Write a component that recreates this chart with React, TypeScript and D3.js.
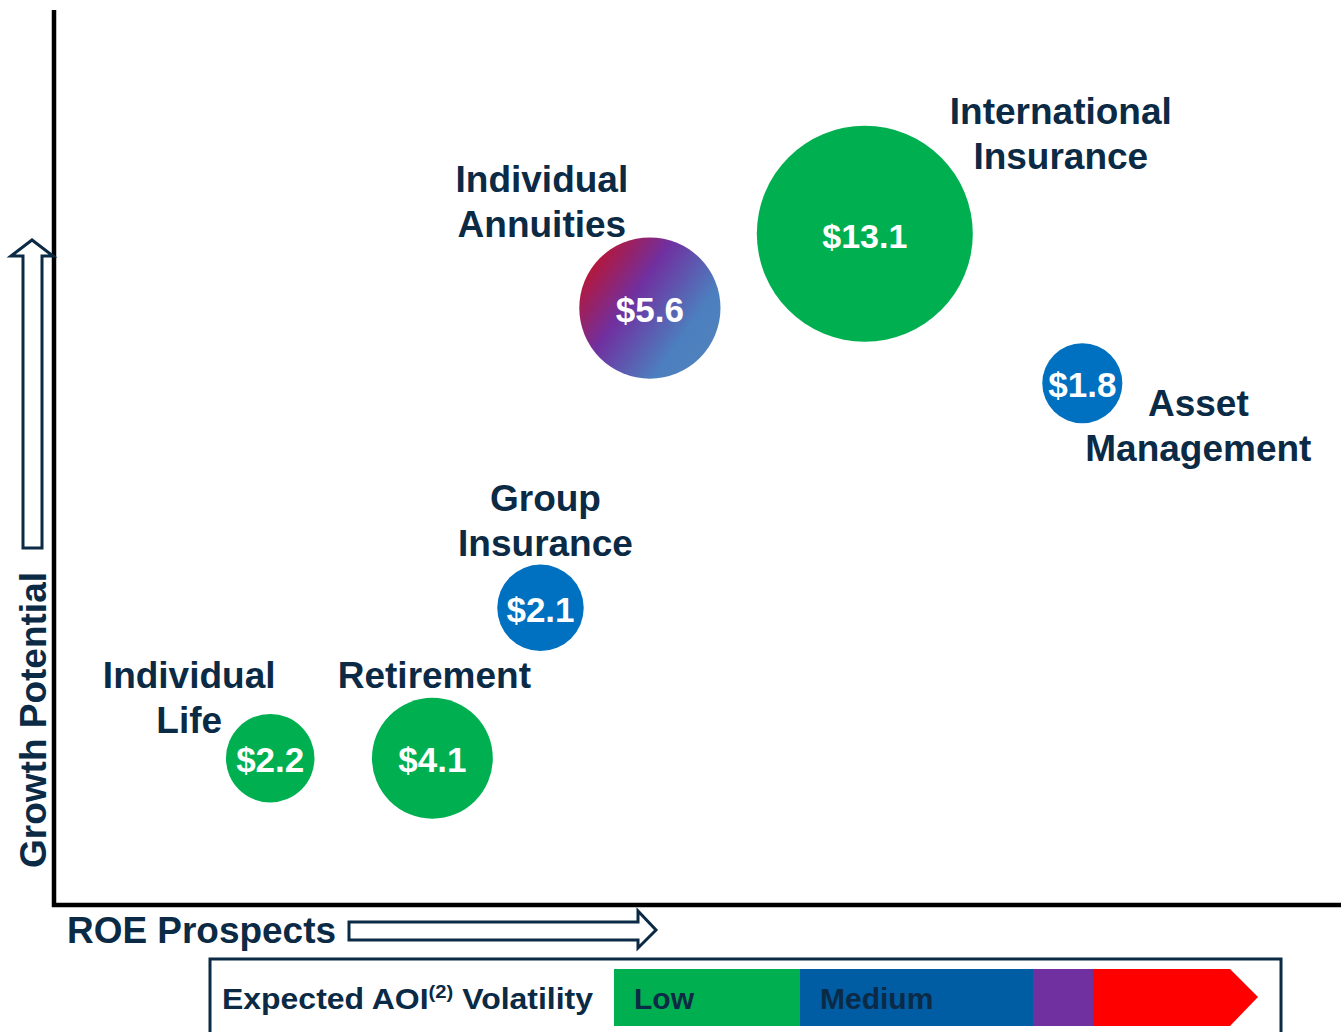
import React from 'react';
import * as d3 from 'd3';

const W = 1341;
const H = 1032;
const navy = '#0B2A45';
const font = '"Liberation Sans", Arial, sans-serif';

// segment data: AOI ($bn), ROE prospect score, growth potential score (0-100)
const segments = ['Individual Life', 'Retirement', 'Group Insurance', 'Individual Annuities', 'International Insurance', 'Asset Management'];
const aoi = [2.2, 4.1, 2.1, 5.6, 13.1, 1.8];
const roe = [16.8, 29.4, 37.8, 46.3, 63.0, 79.9];
const growth = [16.4, 16.4, 33.2, 66.7, 75.0, 58.3];
const volatility = ['low', 'low', 'medium', 'mixed', 'low', 'medium'];

// legend
const volLabels = ['Low', 'Medium', '', ''];
const volShare = [1.86, 2.33, 0.6, 1.42];
const volColors = ['#00B050', '#005CA3', '#7030A0', '#FF0000'];

const fillFor: Record<string, string> = {
  low: '#00B050',
  medium: '#0070C0',
  mixed: 'url(#annGrad)',
};

// label placement relative to bubble centre
const labelLayout: Record<string, {lines: string[]; dx: number; dy: number}> = {
  'Individual Life': {lines: ['Individual', 'Life'], dx: -81, dy: -70},
  Retirement: {lines: ['Retirement'], dx: 2, dy: -70},
  'Group Insurance': {lines: ['Group', 'Insurance'], dx: 5, dy: -97},
  'Individual Annuities': {lines: ['Individual', 'Annuities'], dx: -108, dy: -116},
  'International Insurance': {lines: ['International', 'Insurance'], dx: 196, dy: -110},
  'Asset Management': {lines: ['Asset', 'Management'], dx: 116, dy: 33},
};

const x = d3.scaleLinear().domain([0, 100]).range([54, W]);
const y = d3.scaleLinear().domain([0, 100]).range([905, 10]);
const r = d3.scaleSqrt().domain([0, 13.1]).range([0, 108]);

export default function App() {
  const legX = d3.scaleLinear().domain([0, d3.sum(volShare)]).range([614, 1235]);
  const cum = volShare.map((_, i) => d3.sum(volShare.slice(0, i)));
  return (
    <svg width={W} height={H} style={{position: 'absolute', left: 0, top: 0}} fontFamily={font}>
      <defs>
        <linearGradient id="annGrad" x1="0" y1="0.15" x2="1" y2="0.85">
          <stop offset="0" stopColor="#C8101E" />
          <stop offset="0.38" stopColor="#7030A0" />
          <stop offset="0.75" stopColor="#4C7FBE" />
          <stop offset="1" stopColor="#5182BE" />
        </linearGradient>
      </defs>
      <rect width={W} height={H} fill="#fff" />

      {/* axes */}
      <line x1={x(0)} y1={y(100)} x2={x(0)} y2={y(0) + 2} stroke="#000" strokeWidth={4.5} />
      <line x1={x(0) - 2} y1={y(0)} x2={W} y2={y(0)} stroke="#000" strokeWidth={4.5} />

      {/* y axis title + arrow */}
      <text transform="translate(46,868) rotate(-90)" fontSize={36} fontWeight="bold" fill={navy} textLength={296} lengthAdjust="spacingAndGlyphs">
        Growth Potential
      </text>
      <path d="M23,548 L23,256 L11,256 L32,240 L53,256 L42,256 L42,548 Z" fill="#fff" stroke={navy} strokeWidth={3} strokeLinejoin="miter" />

      {/* x axis title + arrow */}
      <text x={67} y={943} fontSize={36} fontWeight="bold" fill={navy} textLength={269} lengthAdjust="spacingAndGlyphs">
        ROE Prospects
      </text>
      <path d="M349,922 L638,922 L638,911 L656,930 L638,948 L638,940 L349,940 Z" fill="#fff" stroke={navy} strokeWidth={3} />

      {/* bubbles */}
      {segments.map((s, i) => {
        const cx = x(roe[i]);
        const cy = y(growth[i]);
        const lay = labelLayout[s];
        return (
          <g key={s}>
            <circle cx={cx} cy={cy} r={r(aoi[i])} fill={fillFor[volatility[i]]} />
            <text x={cx} y={cy + 14} textAnchor="middle" fontSize={aoi[i] > 10 ? 34 : 35} fontWeight="bold" fill="#fff">
              ${aoi[i].toFixed(1)}
            </text>
            {lay.lines.map((l, j) => (
              <text key={l} x={cx + lay.dx} y={cy + lay.dy + j * 45} textAnchor="middle" fontSize={37} fontWeight="bold" fill={navy}>
                {l}
              </text>
            ))}
          </g>
        );
      })}

      {/* legend */}
      <rect x={210} y={959} width={1071} height={90} fill="#fff" stroke={navy} strokeWidth={3} />
      <text x={222} y={1009} fontSize={30} fontWeight="bold" fill={navy} textLength={371} lengthAdjust="spacingAndGlyphs">
        Expected AOI<tspan fontSize={19} dy={-11}>(2)</tspan>
        <tspan dy={11}> Volatility</tspan>
      </text>
      {volShare.map((v, i) => {
        const x0 = legX(cum[i]);
        const x1 = legX(cum[i] + v);
        const last = i === volShare.length - 1;
        const d = last
          ? `M${x0},969 L${x1 - 5},969 L${x1 + 23},997 L${x1 - 5},1026 L${x0},1026 Z`
          : `M${x0},969 L${x1},969 L${x1},1026 L${x0},1026 Z`;
        return (
          <g key={i}>
            <path d={d} fill={volColors[i]} />
            {volLabels[i] && (
              <text x={x0 + 20} y={1009} fontSize={30} fontWeight="bold" fill={navy}>
                {volLabels[i]}
              </text>
            )}
          </g>
        );
      })}
    </svg>
  );
}
